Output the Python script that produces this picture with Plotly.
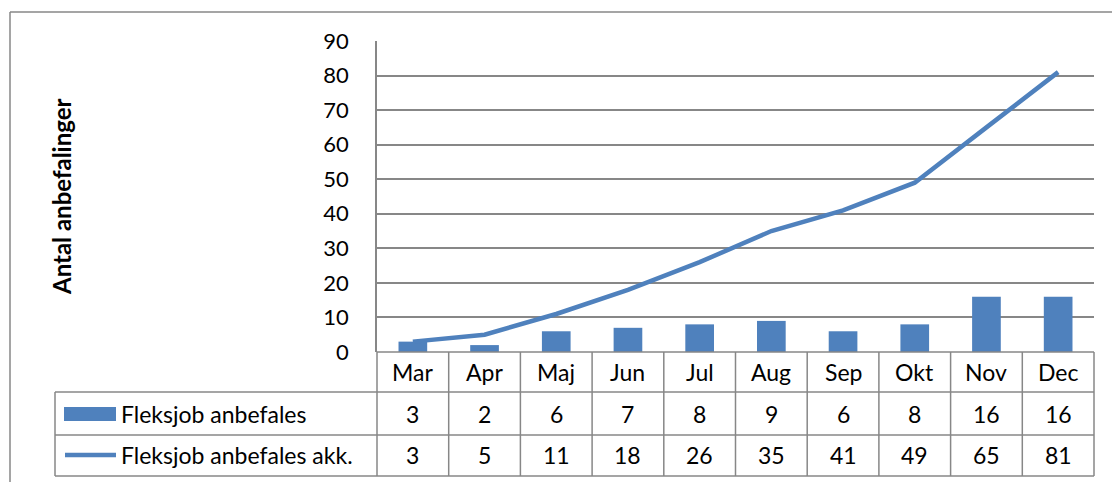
import plotly.graph_objects as go

months = ["Mar", "Apr", "Maj", "Jun", "Jul", "Aug", "Sep", "Okt", "Nov", "Dec"]
monthly = [3, 2, 6, 7, 8, 9, 6, 8, 16, 16]
cumulative = [3, 5, 11, 18, 26, 35, 41, 49, 65, 81]
series_names = ["Fleksjob anbefales", "Fleksjob anbefales akk."]
y_title = "Antal anbefalinger"

W, H = 1112, 482
L, R, T, B = 377, 1094, 41, 352
BLUE = "#4F81BD"
GRID = "#878787"
FONT = "Lato"
FS = 23

def px(x):
    return (x - L) / (R - L)

def py(y):
    return (B - y) / (B - T)

fig = go.Figure()
fig.add_trace(go.Bar(x=months, y=monthly, name=series_names[0], marker=dict(color=BLUE, line=dict(width=0)), width=0.4))
fig.add_trace(go.Scatter(x=months, y=cumulative, name=series_names[1], mode="lines", line=dict(color=BLUE, width=4.5)))

shapes = []
def hline(y, x0, x1):
    shapes.append(dict(type="line", xref="paper", yref="paper", x0=px(x0), x1=px(x1), y0=py(y), y1=py(y), line=dict(color=GRID, width=1.5)))
def vline(x, y0, y1):
    shapes.append(dict(type="line", xref="paper", yref="paper", x0=px(x), x1=px(x), y0=py(y0), y1=py(y1), line=dict(color=GRID, width=1.5)))

# outer chart border
hline(12, 10, 1112)
vline(10, 12, 482)

rows = [352, 392, 435, 476]
hline(rows[0], L, R)
for y in rows[1:]:
    hline(y, 55, R)
n = len(months)
for k in range(n + 1):
    vline(L + k * (R - L) / n, rows[0], rows[3])
vline(55, rows[1], rows[3])

# legend keys
shapes.append(dict(type="rect", xref="paper", yref="paper", x0=px(64), x1=px(116), y0=py(407), y1=py(421), fillcolor=BLUE, line=dict(width=0)))
shapes.append(dict(type="line", xref="paper", yref="paper", x0=px(65), x1=px(116), y0=py(455), y1=py(455), line=dict(color=BLUE, width=4.5)))

ann = []
font = dict(family=FONT, size=FS, color="black")
for i, m in enumerate(months):
    ann.append(dict(x=m, y=py((rows[0] + rows[1]) / 2), xref="x", yref="paper", text=m, showarrow=False, font=font, xanchor="center", yanchor="middle"))
    ann.append(dict(x=m, y=py((rows[1] + rows[2]) / 2), xref="x", yref="paper", text=str(monthly[i]), showarrow=False, font=font, xanchor="center", yanchor="middle"))
    ann.append(dict(x=m, y=py((rows[2] + rows[3]) / 2), xref="x", yref="paper", text=str(cumulative[i]), showarrow=False, font=font, xanchor="center", yanchor="middle"))
ann.append(dict(x=px(119), y=py((rows[1] + rows[2]) / 2), xref="paper", yref="paper", text=series_names[0], showarrow=False, font=font, xanchor="left", yanchor="middle"))
ann.append(dict(x=px(119), y=py((rows[2] + rows[3]) / 2), xref="paper", yref="paper", text=series_names[1], showarrow=False, font=font, xanchor="left", yanchor="middle"))
ann.append(dict(x=px(61), y=py(197), xref="paper", yref="paper", text="<b>" + y_title + "</b>", showarrow=False, textangle=-90, font=dict(family=FONT, size=24, color="black"), xanchor="center", yanchor="middle"))

fig.update_layout(
    width=W, height=H,
    margin=dict(l=L, r=W - R, t=T, b=H - B),
    paper_bgcolor="white", plot_bgcolor="white",
    showlegend=False,
    shapes=shapes, annotations=ann,
)
fig.update_xaxes(type="category", range=[-0.5, n - 0.5], showticklabels=False, showgrid=False, zeroline=False, showline=False, ticks="")
fig.update_yaxes(range=[0, 90], dtick=10, tick0=0, showgrid=True, gridcolor=GRID, gridwidth=1.5, zeroline=False,
                 showline=True, linecolor=GRID, linewidth=1.5, ticks="", ticklabelstandoff=22,
                 tickfont=dict(family=FONT, size=22, color="black"))

fig.write_html("out.html", config={"displayModeBar": False},
               post_script="document.body.style.margin='0';document.body.style.overflow='hidden';")
